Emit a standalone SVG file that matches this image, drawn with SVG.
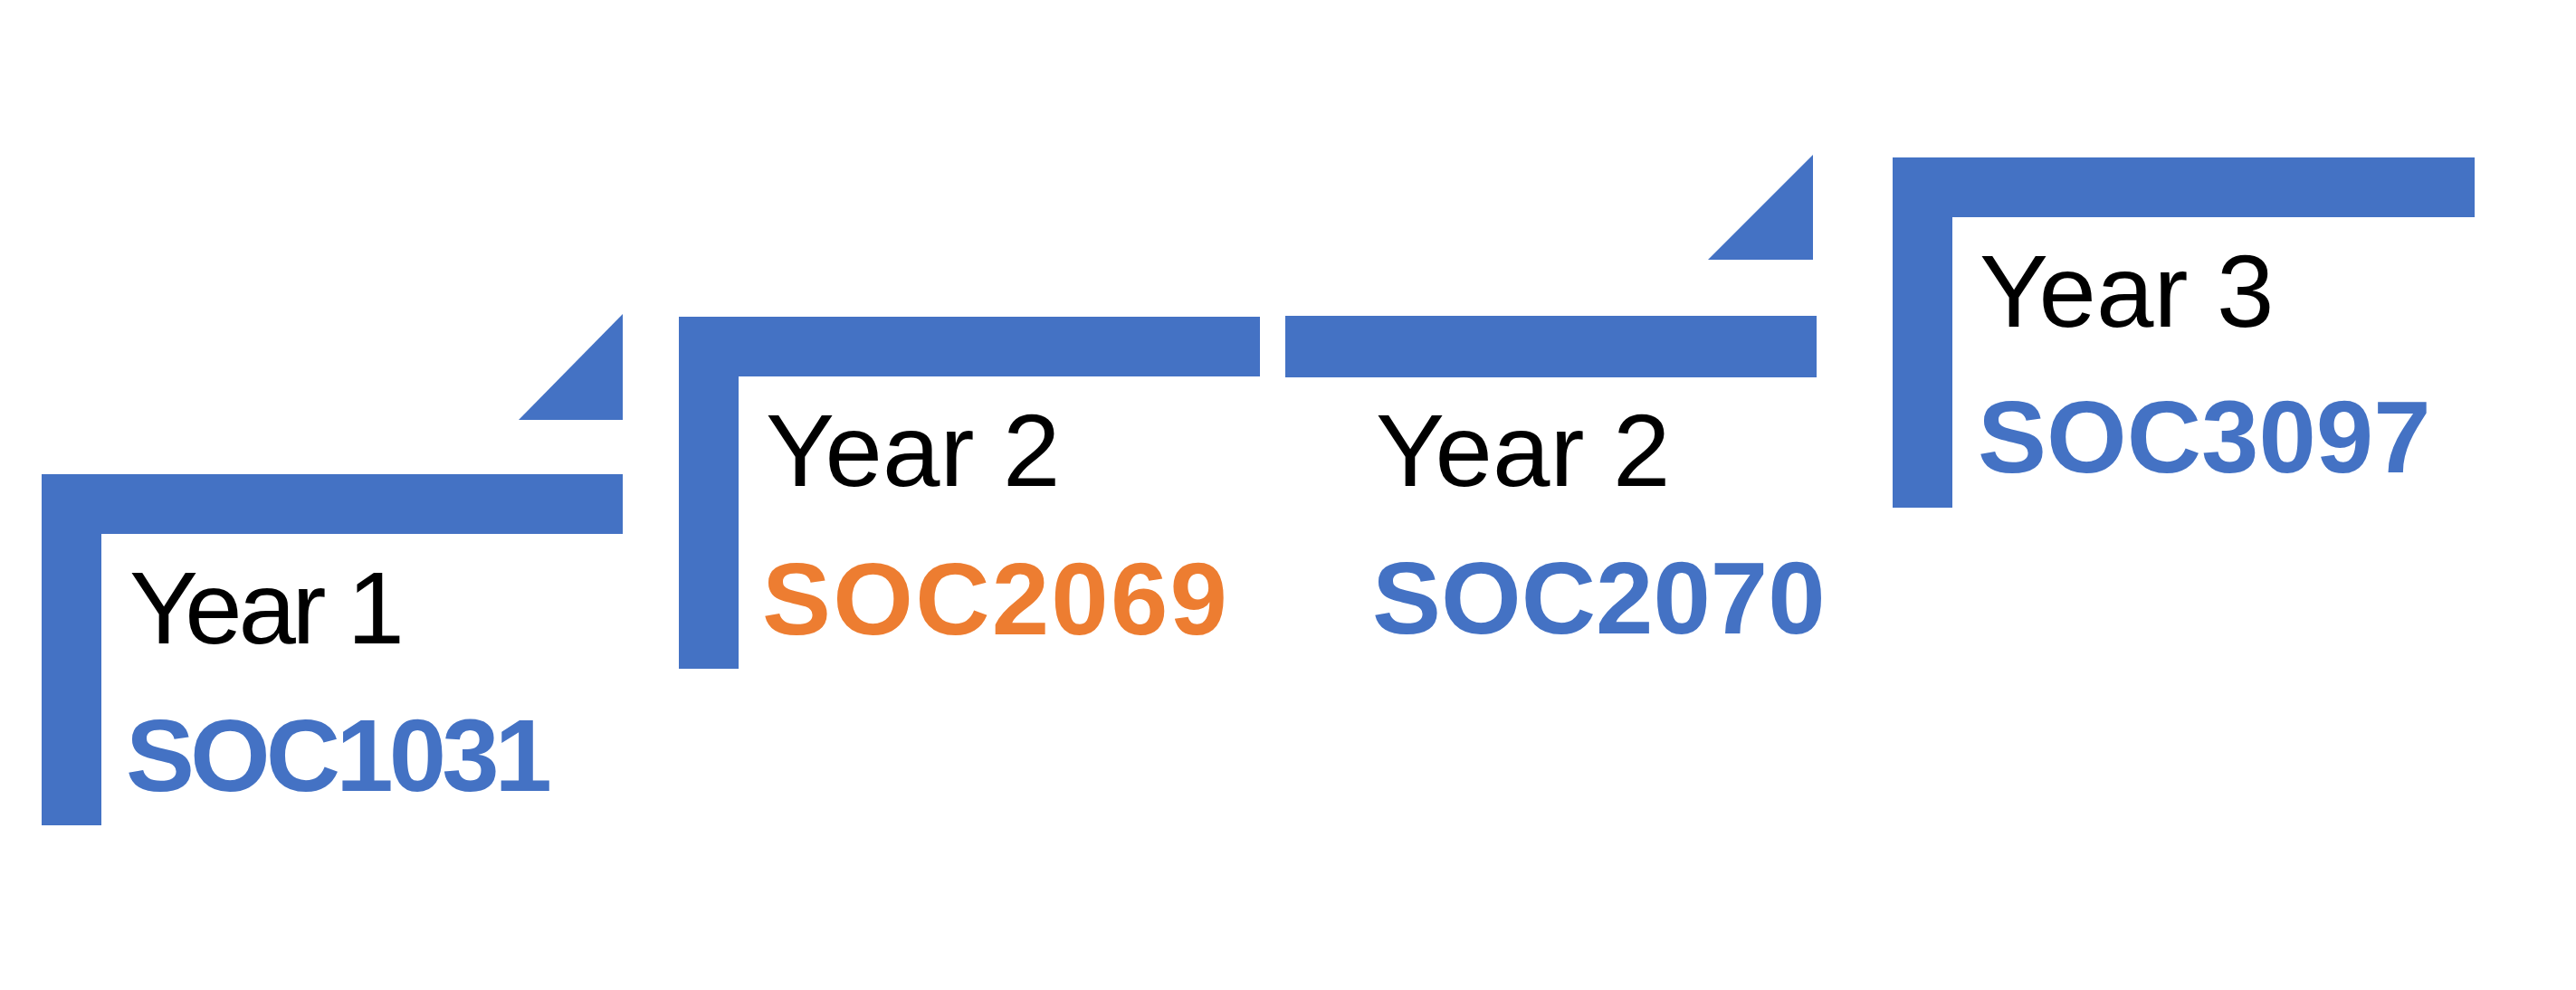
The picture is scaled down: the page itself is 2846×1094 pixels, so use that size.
<svg xmlns="http://www.w3.org/2000/svg" width="2846" height="1094" viewBox="0 0 2846 1094">
  <style>
    .bar { fill: #4472C4; }
    .year { font-family: "Liberation Sans", Arial, Helvetica, sans-serif; font-size: 114px; fill: #000000; }
    .code { font-family: "Liberation Sans", Arial, Helvetica, sans-serif; font-size: 114px; font-weight: bold; }
    .blue { fill: #4472C4; }
    .orange { fill: #ED7D31; }
  </style>
  <rect width="2846" height="1094" fill="#FFFFFF"/>
  <g id="year1">
    <path class="bar" d="M46,524 H688 V590 H112 V912 H46 Z"/>
    <path class="bar" d="M688,347 V464 H573 Z"/>
    <text class="year" x="143" y="711" textLength="304" lengthAdjust="spacing">Year 1</text>
    <text class="code blue" x="139" y="874" textLength="471" lengthAdjust="spacing">SOC1031</text>
  </g>
  <g id="year2a">
    <path class="bar" d="M750,350 H1392 V416 H816 V739 H750 Z"/>
    <text class="year" x="846" y="537">Year 2</text>
    <text class="code orange" x="842" y="701" textLength="514" lengthAdjust="spacing">SOC2069</text>
  </g>
  <g id="year2b">
    <rect class="bar" x="1420" y="349" width="587" height="68"/>
    <path class="bar" d="M2003,171 V287 H1887 Z"/>
    <text class="year" x="1520" y="537">Year 2</text>
    <text class="code blue" x="1516" y="700">SOC2070</text>
  </g>
  <g id="year3">
    <path class="bar" d="M2091,174 H2734 V240 H2157 V561 H2091 Z"/>
    <text class="year" x="2187" y="361">Year 3</text>
    <text class="code blue" x="2185" y="522">SOC3097</text>
  </g>
  <g id="connectors"></g>
</svg>
